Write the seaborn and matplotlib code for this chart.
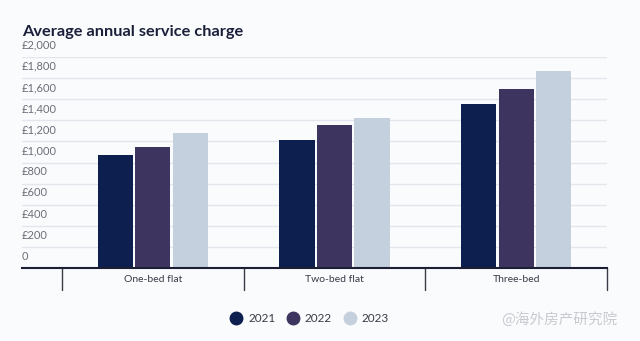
import matplotlib
matplotlib.use("Agg")
import matplotlib.pyplot as plt
import matplotlib.transforms as mtransforms
from matplotlib.lines import Line2D
import seaborn as sns
import pandas as pd

categories = ["One-bed flat", "Two-bed flat", "Three-bed"]
years = ["2021", "2022", "2023"]
values_2021 = [1068, 1213, 1557]
values_2022 = [1147, 1353, 1697]
values_2023 = [1283, 1422, 1870]
ytick_values = [0, 200, 400, 600, 800, 1000, 1200, 1400, 1600, 1800, 2000]
ytick_labels = ["0", "£200", "£400", "£600", "£800", "£1,000", "£1,200",
                "£1,400", "£1,600", "£1,800", "£2,000"]
colors = ["#0d1f4f", "#3d3560", "#c5d0de"]

rows = []
for yr, vals in zip(years, [values_2021, values_2022, values_2023]):
    for c, v in zip(categories, vals):
        rows.append({"category": c, "year": yr, "value": v})
df = pd.DataFrame(rows)

sns.set_theme(style="white")
plt.rcParams["font.family"] = ["Lato", "DejaVu Sans"]

bg = "#fafbfd"
fig = plt.figure(figsize=(6.4, 3.41), dpi=100, facecolor=bg)
W, H = 640, 341
left, right, bottom, top = 22, 607, 268, 57
ax = fig.add_axes([left / W, 1 - bottom / H, (right - left) / W, (bottom - top) / H])
ax.set_facecolor(bg)

sns.barplot(data=df, x="category", y="value", hue="year", order=categories,
            hue_order=years, palette=colors, width=0.62, gap=0.06,
            saturation=1, ax=ax, legend=False, edgecolor="none")

ax.set_xlim(-0.72, 2.5)
ax.set_ylim(0, 2000)
ax.set_xlabel("")
ax.set_ylabel("")
for s in ["top", "right", "left"]:
    ax.spines[s].set_visible(False)
ax.spines["bottom"].set_color("#1c1f33")
ax.spines["bottom"].set_linewidth(1.5)

ax.set_yticks(ytick_values)
ax.set_yticklabels([])
ax.tick_params(axis="y", length=0)
ax.yaxis.grid(True, color="#e4e6eb", linewidth=1.0)
ax.set_axisbelow(True)

ax.set_xticks(range(len(categories)))
ax.set_xticklabels(categories, fontsize=7.5, color="#3a3a48")
ax.tick_params(axis="x", length=0, pad=5)

# y labels inside the axes above gridlines
trans = mtransforms.blended_transform_factory(ax.transAxes, ax.transData)
off = mtransforms.ScaledTranslation(0, 4.5 / 72, fig.dpi_scale_trans)
for v, lab in zip(ytick_values, ytick_labels):
    ax.text(0.0, v, lab, transform=trans + off, ha="left", va="bottom",
            fontsize=8, color="#6b6e78")

# category dividers below the baseline
dtrans = mtransforms.blended_transform_factory(ax.transData, ax.transAxes)
for b in [i - 0.5 for i in range(len(categories) + 1)]:
    ax.plot([b, b], [0, -22 / (bottom - top)], transform=dtrans,
            color="#3a3a48", linewidth=1.0, clip_on=False)

fig.text(left / W, 1 - 32 / H, "Average annual service charge", ha="left",
         va="center", fontsize=11.8, fontweight="bold", color="#1a1f3a")

handles = [Line2D([0], [0], marker="o", linestyle="none", markersize=9,
                  markerfacecolor=c, markeredgecolor=c) for c in colors]
fig.legend(handles, years, loc="center", bbox_to_anchor=(309 / W, 1 - 319 / H),
           ncol=3, frameon=False, fontsize=8.5, handletextpad=0.4,
           columnspacing=0.9, handlelength=1.2, labelcolor="#3a3a48")

fig.text(617 / W, 1 - 319 / H, "@海外房产研究院", ha="right", va="center",
         fontsize=10.5, color="#c9cacf",
         family=["Noto Sans CJK SC", "DejaVu Sans"])

fig.savefig("out.png", dpi=100, facecolor=bg)
